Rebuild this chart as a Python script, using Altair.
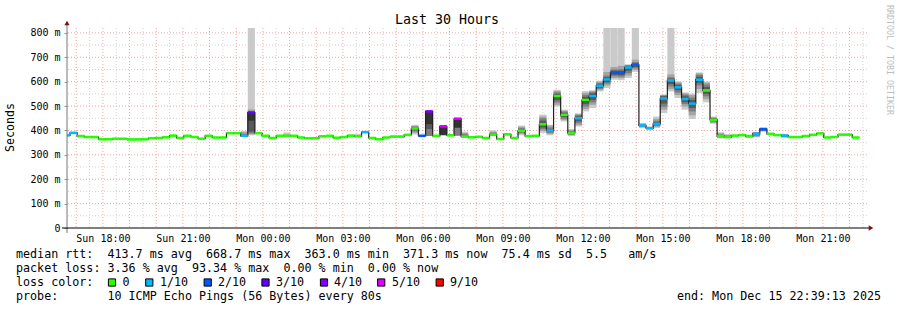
import altair as alt
import pandas as pd
from datetime import datetime, timezone

# ---------------- data ----------------
TITLE = "Last 30 Hours"
Y_LABEL = "Seconds"
WATERMARK = "RRDTOOL / TOBI OETIKER"

RANGE_START = "2025-12-14T16:39:13"
RANGE_END = "2025-12-15T22:39:13"
FIRST_STEP = "2025-12-14T16:30:00"
STEP_MINUTES = 16

# median rtt per 16-minute step (ms)
MEDIAN_MS = [
    380, 390, 377, 373, 373, 364, 364, 366, 366, 363,
    363, 364, 368, 369, 372, 379, 369, 378, 373, 366,
    378, 371, 371, 389, 389, 378, 473, 389, 378, 369,
    378, 378, 378, 371, 368, 368, 376, 378, 370, 373,
    379, 376, 393, 369, 364, 371, 375, 375, 382, 408,
    378, 478, 378, 417, 380, 448, 375, 372, 374, 369,
    383, 365, 384, 369, 399, 377, 378, 425, 400, 541,
    464, 390, 450, 525, 541, 583, 609, 637, 637, 658,
    669, 421, 409, 427, 531, 605, 577, 529, 510, 608,
    564, 443, 377, 373, 379, 381, 377, 386, 405, 386,
    381, 379, 373, 373, 377, 382, 388, 371, 373, 383,
    383, 371,
]

# packet loss class per step (tenths)
LOSS_TENTHS = [
    1, 1, 0, 0, 0, 0, 0, 0, 0, 0,
    0, 0, 0, 0, 0, 0, 0, 0, 0, 0,
    0, 0, 0, 0, 0, 1, 3, 0, 0, 0,
    0, 0, 0, 0, 0, 0, 0, 0, 0, 0,
    0, 0, 1, 0, 0, 0, 0, 0, 0, 0,
    2, 4, 0, 5, 0, 5, 0, 0, 0, 0,
    0, 0, 0, 0, 0, 0, 0, 0, 1, 0,
    0, 0, 1, 0, 1, 1, 1, 2, 2, 1,
    2, 1, 1, 1, 1, 1, 1, 1, 1, 1,
    0, 0, 0, 0, 0, 0, 0, 1, 2, 0,
    0, 1, 0, 0, 0, 0, 0, 0, 0, 0,
    0, 0,
]

LOSS_LEVELS = [0, 1, 2, 3, 4, 5, 9]
LOSS_LABELS = ["0", "1/10", "2/10", "3/10", "4/10", "5/10", "9/10"]
LOSS_COLORS = ["#26ff00", "#00b8ff", "#0059ff", "#5e00ff", "#7e00ff", "#dd00ff", "#ff0000"]

# sorted ping times (ms) for steps with visible smoke; None = lost
SMOKE = {
    25: [374, 376, 377, 378, 378, 379, 380, 386, 395, 396],
    26: [380, 384, 388, 395, 440, 470, 476, 480, 486, 830],
    31: [376, 377, 377, 378, 378, 378, 379, 380, 384, 392],
    41: [372, 374, 374, 375, 375, 375, 376, 377, 380, 386],
    49: [383, 390, 396, 401, 405, 410, 413, 416, 419, 423],
    51: [375, 376, 377, 406, 426, 478, 479, 480, None, None],
    53: [378, 379, 380, 381, 382, 417, 418, 419, None, None],
    55: [376, 377, 378, 410, 412, 448, 449, 450, None, None],
    56: [372, 373, 374, 374, 375, 376, 380, 385, 390, 395],
    60: [378, 380, 381, 382, 383, 384, 387, 391, 395, 400],
    64: [380, 385, 390, 394, 397, 401, 405, 410, 415, 420],
    67: [390, 398, 405, 412, 420, 430, 440, 450, 457, 465],
    68: [380, 385, 390, 395, 398, 402, 406, 412, 420, 423],
    69: [498, 505, 515, 525, 535, 545, 550, 556, 562, 567],
    70: [437, 442, 448, 455, 461, 467, 472, 477, 481, 485],
    71: [378, 380, 383, 386, 389, 391, 394, 398, 402, 406],
    72: [416, 422, 430, 438, 446, 453, 458, 463, 467, 470],
    73: [478, 488, 498, 508, 518, 530, 538, 546, 554, 561],
    74: [492, 505, 515, 525, 535, 546, 552, 557, 561, 565],
    75: [560, 565, 570, 575, 580, 586, 590, 595, 600, 604],
    76: [574, 584, 592, 598, 605, 612, 618, 625, 640, 830],
    77: [608, 615, 622, 628, 634, 640, 645, 650, 660, 830],
    78: [606, 614, 620, 627, 633, 640, 645, 651, 665, 830],
    79: [615, 625, 635, 645, 654, 661, 664, 667, 669, 671],
    80: [640, 648, 655, 660, 666, 672, 675, 680, 690, 830],
    81: [410, 413, 416, 418, 420, 422, 424, 426, 428, 430],
    82: [404, 405, 406, 407, 408, 410, 411, 412, 414, 416],
    83: [410, 415, 418, 422, 425, 429, 434, 440, 448, 457],
    84: [471, 485, 497, 510, 525, 535, 540, 543, 545, 547],
    85: [560, 570, 580, 590, 600, 608, 613, 618, 630, 830],
    86: [533, 545, 555, 565, 573, 580, 586, 592, 597, 601],
    87: [485, 498, 508, 516, 525, 532, 540, 547, 552, 556],
    88: [447, 462, 478, 492, 505, 515, 525, 535, 545, 551],
    89: [554, 570, 585, 595, 604, 612, 620, 628, 634, 638],
    90: [515, 528, 540, 550, 560, 568, 578, 588, 596, 601],
    91: [427, 431, 435, 439, 442, 445, 448, 451, 454, 457],
    92: [367, 370, 372, 374, 376, 378, 381, 384, 388, 393],
    93: [369, 370, 371, 372, 373, 374, 376, 378, 381, 385],
    96: [370, 371, 373, 375, 376, 378, 379, 380, 381, 382],
    97: [371, 374, 378, 381, 384, 388, 390, 391, 392, 393],
    98: [395, 397, 399, 401, 403, 407, 409, 410, 411, 412],
    101: [370, 372, 374, 376, 378, 380, 381, 382, 383, 384],
}
SMOKE_SHADES = ["#cacaca", "#a4a4a4", "#7e7e7e", "#585858", "#323232"]

Y_TICKS = [0, 100, 200, 300, 400, 500, 600, 700, 800]
Y_MINOR = [50, 150, 250, 350, 450, 550, 650, 750]
X_TICKS = [
    "2025-12-14T18:00:00", "2025-12-14T21:00:00", "2025-12-15T00:00:00",
    "2025-12-15T03:00:00", "2025-12-15T06:00:00", "2025-12-15T09:00:00",
    "2025-12-15T12:00:00", "2025-12-15T15:00:00", "2025-12-15T18:00:00",
    "2025-12-15T21:00:00",
]

STAT_LINES = [
    "median rtt:  413.7 ms avg  668.7 ms max  363.0 ms min  371.3 ms now  75.4 ms sd  5.5   am/s",
    "packet loss: 3.36 % avg  93.34 % max  0.00 % min  0.00 % now",
    "loss color:",
    "probe:       10 ICMP Echo Pings (56 Bytes) every 80s",
]
END_TEXT = "end: Mon Dec 15 22:39:13 2025"

# ---------------- helpers ----------------
FONT = "DejaVu Sans Mono"


def ms(s):
    return int(datetime.fromisoformat(s).replace(tzinfo=timezone.utc).timestamp() * 1000)


t_first = ms(FIRST_STEP)
step_ms = STEP_MINUTES * 60000
n = len(MEDIAN_MS)
starts = [t_first + k * step_ms for k in range(n)]
ends = [s + step_ms for s in starts]
name_of = dict(zip(LOSS_LEVELS, LOSS_LABELS))

steps = pd.DataFrame({"t0": starts, "t1": ends, "med": MEDIAN_MS,
                      "loss": [name_of[v] for v in LOSS_TENTHS]})
line_df = pd.DataFrame({"t": starts + [ends[-1]], "med": MEDIAN_MS + [MEDIAN_MS[-1]]})

t_lo, t_hi = ms(RANGE_START), ms(RANGE_END)
half_hour = 30 * 60000
first_grid = (t_lo // half_hour + 1) * half_hour
grid_times = list(range(first_grid, t_hi + 1, half_hour))
gv_major = pd.DataFrame({"t": [g for g in grid_times if (g // half_hour) % 2 == 0]})
gv_minor = pd.DataFrame({"t": [g for g in grid_times if (g // half_hour) % 2 == 1]})
gh_major = pd.DataFrame({"v": Y_TICKS[1:]})
gh_minor = pd.DataFrame({"v": Y_MINOR})

xs = alt.Scale(type="utc", domain=[t_lo, t_hi])
ys = alt.Scale(domain=[0, 820], nice=False, zero=False)

x_axis = alt.Axis(values=[ms(t) for t in X_TICKS],
                  labelExpr="utcFormat(datum.value, '%a %H:%M')",
                  grid=False, domain=False, ticks=False, labelPadding=5,
                  labelFont=FONT, labelFontSize=10, labelColor="#000000",
                  labelFlush=False, labelOverlap=False, title=None)
y_axis = alt.Axis(values=Y_TICKS,
                  labelExpr="datum.value == 0 ? '0' : datum.value + ' m'",
                  grid=False, domain=False, ticks=True, tickSize=3, tickColor="#999999",
                  labelPadding=4, labelFont=FONT, labelFontSize=10, labelColor="#000000",
                  labelFlush=False, labelOverlap=False, title=None)


def X(f):
    return alt.X(f"{f}:T", scale=xs, axis=x_axis)


def Y(f):
    return alt.Y(f"{f}:Q", scale=ys, axis=y_axis)


layers = []
# grid
layers.append(alt.Chart(gv_minor).mark_rule(color="#d2d2d2", strokeDash=[1, 2], strokeWidth=1).encode(x=X("t")))
layers.append(alt.Chart(gh_minor).mark_rule(color="#d2d2d2", strokeDash=[1, 2], strokeWidth=1).encode(y=Y("v")))
layers.append(alt.Chart(gv_major).mark_rule(color="#f2a3a3", strokeDash=[1, 2], strokeWidth=1).encode(x=X("t")))
layers.append(alt.Chart(gh_major).mark_rule(color="#f2a3a3", strokeDash=[1, 2], strokeWidth=1).encode(y=Y("v")))

# smoke
for i, shade in enumerate(SMOKE_SHADES):
    rows = []
    for k, p in SMOKE.items():
        lo, hi = p[i], p[9 - i]
        if lo is None or hi is None:
            continue
        rows.append({"t0": starts[k], "t1": ends[k], "lo": lo, "hi": hi})
    if rows:
        layers.append(alt.Chart(pd.DataFrame(rows)).mark_rect(color=shade, clip=True)
                      .encode(x=X("t0"), x2="t1", y=Y("lo"), y2="hi"))

# median black step line
layers.append(alt.Chart(line_df).mark_line(interpolate="step-after", color="#202020",
                                            strokeWidth=1.2, clip=True)
              .encode(x=X("t"), y=Y("med")))
# loss-coloured median
layers.append(alt.Chart(steps).mark_rule(strokeWidth=2.6, clip=True)
              .encode(x=X("t0"), x2="t1", y=Y("med"),
                      color=alt.Color("loss:N", scale=alt.Scale(domain=LOSS_LABELS, range=LOSS_COLORS),
                                      legend=None)))

one = pd.DataFrame({"i": [0]})

# axis lines & arrows
layers.append(alt.Chart(one).mark_rule(color="#777777", strokeWidth=1)
              .encode(x=alt.value(0), y=alt.value(-6), y2=alt.value(205)))
layers.append(alt.Chart(one).mark_rule(color="#000000", strokeWidth=1)
              .encode(x=alt.value(-5), x2=alt.value(802), y=alt.value(200)))
layers.append(alt.Chart(one).mark_point(shape="triangle-up", filled=True, size=28, color="#7a1414", opacity=1)
              .encode(x=alt.value(0), y=alt.value(-5)))
layers.append(alt.Chart(one).mark_point(shape="triangle-right", filled=True, size=28, color="#7a1414", opacity=1)
              .encode(x=alt.value(804), y=alt.value(200)))


def nb(s):
    return s.replace(" ", "\u00a0")


def text(txt, x, y, size, align="left", angle=0, color="#000000"):
    return alt.Chart(one).mark_text(text=nb(txt), font=FONT, fontSize=size, align=align,
                                    baseline="middle", angle=angle, color=color).encode(
        x=alt.value(x), y=alt.value(y))


OX, OY = 67, 28
layers.append(text(TITLE, 447 - OX, 19.5 - OY, 13.3, align="center"))
layers.append(text(Y_LABEL, 11 - OX, 127.5 - OY, 11.6, align="center", angle=270))
layers.append(text(WATERMARK, 888.5 - OX, 60 - OY, 8.3, align="center", angle=90, color="#bdbdbd"))

line_y = [254.3, 268.3, 282.3, 296.0]
for s, yy in zip(STAT_LINES, line_y):
    layers.append(text(s, 16 - OX, yy - OY, 11.7))
layers.append(text(END_TEXT, 881 - OX, 296.0 - OY, 11.7, align="right"))

box_x = [112, 149.3, 207.7, 265.5, 324, 381.2, 439.7]
lab_x = [122.6, 160, 218, 276, 334, 392, 450]
for bx, lx, lab, col in zip(box_x, lab_x, LOSS_LABELS, LOSS_COLORS):
    layers.append(alt.Chart(one).mark_point(shape="square", filled=True, size=52, fill=col,
                                             stroke="#000000", strokeWidth=1, opacity=1)
                  .encode(x=alt.value(bx - OX), y=alt.value(282.5 - OY)))
    layers.append(text(lab, lx - OX, 282.3 - OY, 11.7))

chart = alt.layer(*layers).properties(
    width=800, height=200,
    padding={"left": OX, "top": OY, "right": 897 - OX - 800, "bottom": 310 - OY - 200},
    autosize=alt.AutoSizeParams(type="none"),
    background="white",
).configure_view(stroke=None)

chart.save("out.html", embed_options={"renderer": "svg", "actions": False})
